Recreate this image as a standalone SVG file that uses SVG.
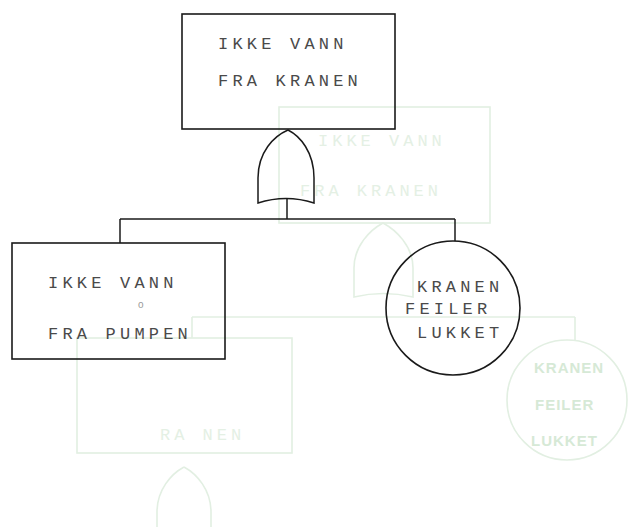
<svg xmlns="http://www.w3.org/2000/svg" width="636" height="527" viewBox="0 0 636 527">
<style>
.box{fill:none;stroke:#1a1a1a;stroke-width:1.6}
.ln{fill:none;stroke:#1a1a1a;stroke-width:1.5}
.t{font-family:"Liberation Mono","DejaVu Sans Mono",monospace;font-size:17px;letter-spacing:4.2px;fill:#4a4a4a}
.g{fill:none;stroke:#e2efe2;stroke-width:1.6}
.gt{font-family:"Liberation Mono","DejaVu Sans Mono",monospace;font-size:17px;letter-spacing:4px;fill:#e4f0e4}
.gtb{font-family:"Liberation Sans","DejaVu Sans",sans-serif;font-size:15px;font-weight:bold;letter-spacing:1px;fill:#d6e9d6}
</style>
<rect width="636" height="527" fill="#ffffff"/>
<g id="bleed-through">
<rect class="g" x="279" y="107" width="211" height="116"/>
<text class="gt" x="318" y="146">IKKE VANN</text>
<text class="gt" x="300" y="196">FRA KRANEN</text>
<path class="g" d="M383,223 C396,230 413,246 413,268 L413,297 Q383,290 354,297 L354,268 C354,246 370,230 383,223 Z"/>
<path class="g" d="M192,317 L575,317 M575,317 L575,340 M192,317 L192,338"/>
<rect class="g" x="77" y="338" width="215" height="115"/>
<text class="gt" x="160" y="440">RA NEN</text>
<path class="g" d="M184,467 C197,474 211,490 211,512 L211,527 M157,527 L157,512 C157,490 171,474 184,467"/>
<circle class="g" cx="567" cy="400" r="60"/>
<text class="gtb" x="534" y="373">KRANEN</text>
<text class="gtb" x="535" y="410">FEILER</text>
<text class="gtb" x="531" y="446">LUKKET</text>
</g>
<g id="connectors">
<path class="ln" d="M287,199 L287,219"/>
<path class="ln" d="M120,219 L455,219"/>
<path class="ln" d="M120,219 L120,243"/>
<path class="ln" d="M455,219 L455,241"/>
</g>
<g id="top-event">
<rect class="box" x="182" y="14" width="213" height="115"/>
<text class="t" x="218" y="49">IKKE VANN</text>
<text class="t" x="218" y="86">FRA KRANEN</text>
</g>
<g id="or-gate">
<path class="ln" d="M288,130 C300,136 314,152 314,178 L314,203 Q286,194 258,203 L258,178 C258,152 274,136 288,130 Z" fill="#fff"/>
</g>
<g id="pump-event">
<rect class="box" x="12" y="243" width="213" height="116"/>
<text class="t" x="48" y="288">IKKE VANN</text>
<text x="138" y="308" font-family="Liberation Sans, sans-serif" font-size="10" fill="#9a9a9a">o</text>
<text class="t" x="48" y="339">FRA PUMPEN</text>
</g>
<g id="tap-fails">
<circle class="box" cx="453" cy="308" r="67"/>
<text class="t" x="417" y="292">KRANEN</text>
<text class="t" x="405" y="314">FEILER</text>
<text class="t" x="417" y="338">LUKKET</text>
</g>
</svg>
